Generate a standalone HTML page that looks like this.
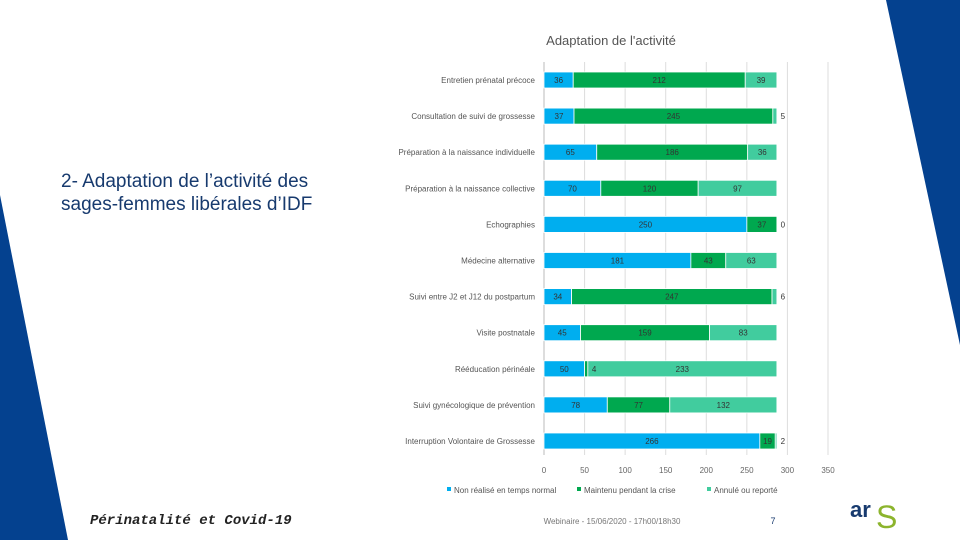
<!DOCTYPE html>
<html><head><meta charset="utf-8"><style>
body{margin:0;width:960px;height:540px;overflow:hidden;background:#fff;font-family:"Liberation Sans",sans-serif;position:relative}
svg{position:absolute;left:0;top:0}
</style></head><body>
<svg width="960" height="540">
<polygon points="0,195 0,540 68,540" fill="#04418f"/>
<polygon points="886,0 960,0 960,345" fill="#04418f"/>
<text x="61" y="187" font-size="19" fill="#173a6e">2- Adaptation de l’activité des</text>
<text x="61" y="210" font-size="19" fill="#173a6e">sages-femmes libérales d’IDF</text>
<text x="611" y="45" font-size="13" fill="#555" text-anchor="middle">Adaptation de l'activité</text>
<g id="chart"></g>
<g id="labels"></g>
<text x="90" y="524" font-size="14" font-style="italic" font-weight="bold" fill="#222" font-family="Liberation Mono, monospace">Périnatalité et Covid-19</text>
<text x="612" y="524" font-size="8" fill="#777" text-anchor="middle">Webinaire - 15/06/2020 - 17h00/18h30</text>
<text x="773" y="524" font-size="9" fill="#173a6e" text-anchor="middle">7</text>
<g>
<text x="850" y="517" font-size="22" font-weight="bold" fill="#173a6e">ar</text>
<text x="876" y="528" font-size="32" fill="#8cb42d">S</text>
</g>
</svg>
<script>
const categories=["Entretien prénatal précoce","Consultation de suivi de grossesse","Préparation à la naissance individuelle","Préparation à la naissance collective","Echographies","Médecine alternative","Suivi entre J2 et J12 du postpartum","Visite postnatale","Rééducation périnéale","Suivi gynécologique de prévention","Interruption Volontaire de Grossesse"];
const nonRealise=[36,37,65,70,250,181,34,45,50,78,266];
const maintenu=[212,245,186,120,37,43,247,159,4,77,19];
const annule=[39,5,36,97,0,63,6,83,233,132,2];
const ticks=[0,50,100,150,200,250,300,350];
const seriesNames=["Non réalisé en temps normal","Maintenu pendant la crise","Annulé ou reporté"];
const colors=["#00aeef","#00a84f","#41cc9e"];
const NS="http://www.w3.org/2000/svg";
const g=document.getElementById('chart');
const gl=document.getElementById('labels');
const x0=544,x1=828,xmax=350,yTop=80,yStep=36.1,bh=16;
const xs=v=>x0+v/xmax*(x1-x0);
const ys=i=>yTop+i*yStep;
function mk(t,a,p){const e=document.createElementNS(NS,t);for(const k in a)e.setAttribute(k,a[k]);(p||g).appendChild(e);return e;}
ticks.forEach(t=>{
 const l=mk('line',{x1:xs(t),x2:xs(t),y1:62,y2:455,stroke:t===0?'#bbb':'#ddd','stroke-width':1});
 
 
 const tx=mk('text',{x:xs(t),y:473,'font-size':8,fill:'#666','text-anchor':'middle'});tx.textContent=t;
 
 
});
const series=[nonRealise,maintenu,annule];
categories.forEach((c,i)=>{
 const y=ys(i);
 const lb=mk('text',{x:535,y:y+3,'font-size':8,fill:'#555','text-anchor':'end'});lb.textContent=c;
 
 
 let acc=0;
 series.forEach((s,k)=>{
  const v=s[i];const xa=xs(acc),xb=xs(acc+v);
  if(v>0){const r=mk('rect',{x:xa,y:y-bh/2,width:xb-xa,height:bh,fill:colors[k],stroke:'#fff','stroke-width':0.8});
  
  }
  const w=xb-xa;
  const outside=w<=12;
  const isLast=k===series.length-1;
  const t=mk('text',{x:outside?xb+(isLast?6:4):(xa+xb)/2,y:y+3,'font-size':8,fill:'#333','text-anchor':outside&&!isLast?'start':'middle'},gl);t.textContent=v;
  
  
  acc+=v;
 });
});
let lx=447;
seriesNames.forEach((n,k)=>{
 const r=mk('rect',{x:lx,y:487,width:4,height:4,fill:colors[k]});
 
 
 const t=mk('text',{x:lx+7,y:493,'font-size':8,fill:'#555'});t.textContent=n;
 
 
 lx+=[130,130,0][k];
});
</script>
</body></html>
